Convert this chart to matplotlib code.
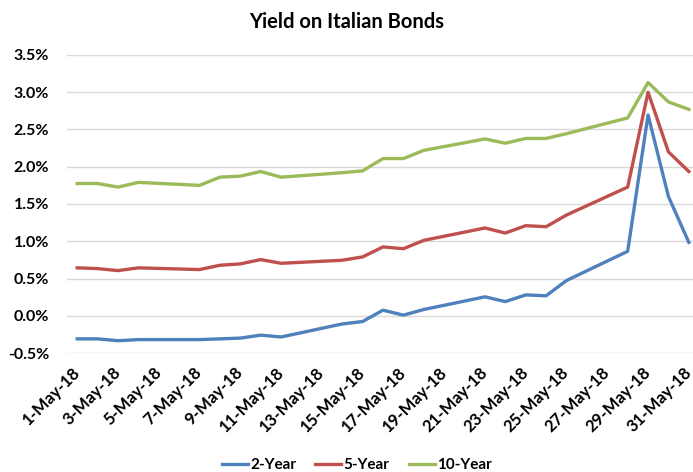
import matplotlib
matplotlib.use("Agg")
import matplotlib.pyplot as plt
import pandas as pd
from matplotlib.ticker import FuncFormatter

plt.rcParams['font.family'] = ['Lato', 'DejaVu Sans']

dates = ["2018-05-01", "2018-05-02", "2018-05-03", "2018-05-04", "2018-05-07",
         "2018-05-08", "2018-05-09", "2018-05-10", "2018-05-11", "2018-05-14",
         "2018-05-15", "2018-05-16", "2018-05-17", "2018-05-18", "2018-05-21",
         "2018-05-22", "2018-05-23", "2018-05-24", "2018-05-25", "2018-05-28",
         "2018-05-29", "2018-05-30", "2018-05-31"]
two_year = [-0.31, -0.31, -0.335, -0.32, -0.32, -0.31, -0.30, -0.26, -0.285, -0.11,
            -0.077, 0.075, 0.008, 0.084, 0.254, 0.19, 0.28, 0.268, 0.473, 0.865,
            2.695, 1.60, 0.985]
five_year = [0.643, 0.633, 0.606, 0.643, 0.62, 0.678, 0.696, 0.754, 0.704, 0.745,
             0.79, 0.924, 0.90, 1.012, 1.178, 1.11, 1.209, 1.195, 1.352, 1.727,
             3.0, 2.20, 1.936]
ten_year = [1.775, 1.775, 1.727, 1.79, 1.75, 1.86, 1.874, 1.936, 1.86, 1.92,
            1.945, 2.11, 2.11, 2.22, 2.373, 2.316, 2.38, 2.38, 2.444, 2.655,
            3.13, 2.87, 2.77]
series_names = ["2-Year", "5-Year", "10-Year"]
colors = ["#4F81BD", "#C0504D", "#9BBB59"]
y_ticks = [-0.5, 0.0, 0.5, 1.0, 1.5, 2.0, 2.5, 3.0, 3.5]

x = pd.to_datetime(dates)

fig = plt.figure(figsize=(6.93, 4.72), dpi=100)
ax = fig.add_axes([0.0967, 0.2521, 0.912, 0.6314])

for vals, name, c in zip([two_year, five_year, ten_year], series_names, colors):
    ax.plot(x, vals, color=c, lw=2.4, label=name, solid_joinstyle="round")

ax.set_ylim(-0.5, 3.5)
ax.set_yticks(y_ticks)
ax.yaxis.set_major_formatter(FuncFormatter(lambda v, p: f"{v:.1f}%"))
start = pd.Timestamp("2018-05-01")
end = pd.Timestamp("2018-05-31")
ax.set_xlim(start - pd.Timedelta(hours=12), end + pd.Timedelta(hours=12))
xt = pd.date_range(start, end, freq="2D")
ax.set_xticks(xt)
ax.set_xticklabels([f"{d.day}-{d.strftime('%b')}-{d.strftime('%y')}" for d in xt],
                   rotation=45, ha="right", va="center", rotation_mode="anchor")

ax.grid(axis="y", color="#D9D9D9", lw=1)
ax.set_axisbelow(True)
for s in ax.spines.values():
    s.set_visible(False)
ax.tick_params(axis="both", length=0, labelsize=11.5, colors="black")
ax.tick_params(axis="x", labelsize=12, pad=12)
ax.tick_params(axis="y", pad=13)
for lab in ax.get_xticklabels() + ax.get_yticklabels():
    lab.set_fontweight("bold")

fig.suptitle("Yield on Italian Bonds", x=0.5, y=0.975, fontsize=14.5, fontweight="bold")

fig.legend(loc="lower center", bbox_to_anchor=(0.515, -0.03), ncol=3, frameon=False,
           prop={"weight": "bold", "size": 11}, handlelength=1.7, columnspacing=1.25,
           handletextpad=0.15)

fig.savefig("out.png", dpi=100)
